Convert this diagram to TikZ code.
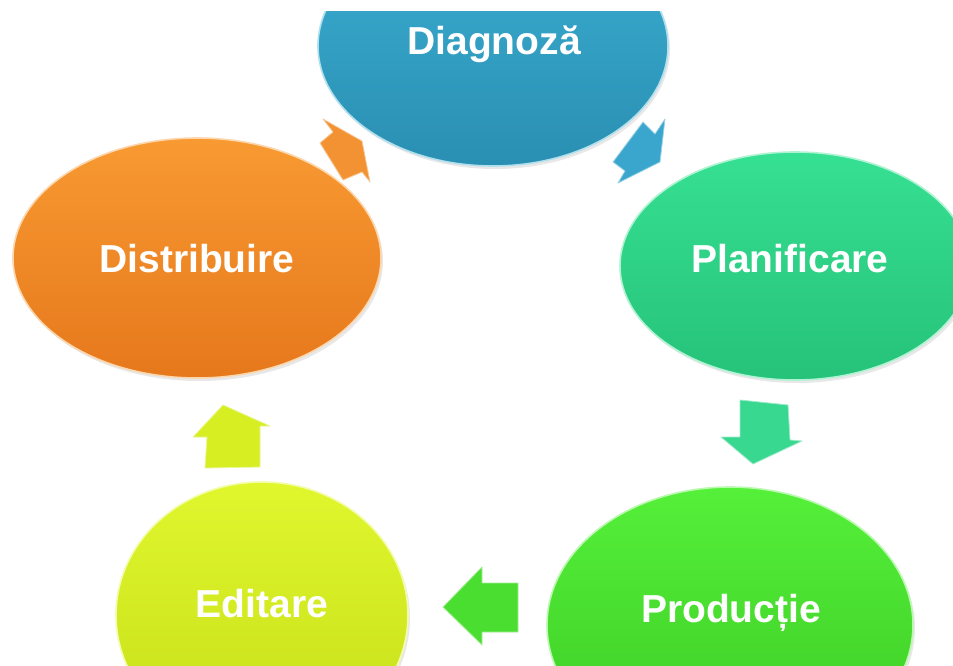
\documentclass[tikz,border=0pt]{standalone}
\usepackage{fontspec}
\setmainfont{Liberation Sans}
\usetikzlibrary{shapes.geometric,shadows}
\definecolor{dTop}{HTML}{3AAED2}
\definecolor{dBot}{HTML}{2A8FB2}
\definecolor{pTop}{HTML}{36E092}
\definecolor{pBot}{HTML}{26C27A}
\definecolor{rTop}{HTML}{55F03A}
\definecolor{rBot}{HTML}{3CCA24}
\definecolor{eTop}{HTML}{E0F72E}
\definecolor{eBot}{HTML}{C6DE18}
\definecolor{sTop}{HTML}{F89A32}
\definecolor{sBot}{HTML}{E6781C}
\definecolor{aBlue}{HTML}{3AA6CE}
\definecolor{aOrange}{HTML}{F29232}
\definecolor{aTeal}{HTML}{38D890}
\definecolor{aGreen}{HTML}{4ADE30}
\definecolor{aYellow}{HTML}{D6EE22}
\begin{document}
\begin{tikzpicture}[x=1pt,y=-1pt,
  blob/.style={ellipse, inner sep=0pt, line width=1.6pt,
    drop shadow={opacity=0.18, shadow xshift=2pt, shadow yshift=-3pt}},
  lbl/.style={anchor=base, text=white, font=\bfseries\fontsize{39}{44}\selectfont, inner sep=0pt},
  blockarrow/.style={line width=0.8pt, line join=round}
]
\useasboundingbox (0,0) rectangle (953,666);
\fill[white] (0,0) rectangle (953,666);
\begin{scope}
\clip (0,12) rectangle (953,666);
% ellipses
\node[blob, minimum width=350pt, minimum height=240pt, top color=dTop, bottom color=dBot, draw=dTop!40!white] (diag) at (493,46) {};
\node[blob, minimum width=350pt, minimum height=228pt, top color=pTop, bottom color=pBot, draw=pTop!40!white] (plan) at (795,266) {};
\node[blob, minimum width=366pt, minimum height=276pt, top color=rTop, bottom color=rBot, draw=rTop!40!white] (prod) at (730,625) {};
\node[blob, minimum width=292pt, minimum height=266pt, top color=eTop, bottom color=eBot, draw=eTop!40!white] (edit) at (262,615) {};
\node[blob, minimum width=368pt, minimum height=240pt, top color=sTop, bottom color=sBot, draw=sTop!40!white] (dist) at (197,258) {};
% labels
\node[lbl] (diagT) at (494,55) {Diagnoză};
\node[lbl] (planT) at (790,272) {Planificare};
\node[lbl] (prodT) at (731,622) {Producție};
\node[lbl] (editT) at (262,617) {Editare};
\node[lbl] (distT) at (197,272) {Distribuire};
% block arrows
\filldraw[blockarrow, fill=aBlue, draw=aBlue!50!white]
  (643,122) -- (655,134) -- (665,119) -- (660,162) -- (618,183) -- (625,171) -- (613,162) -- cycle;
\filldraw[blockarrow, fill=aTeal, draw=aTeal!50!white]
  (740,400) -- (788,405) -- (790,440) -- (802,441) -- (753,464) -- (721,437) -- (740,437) -- cycle;
\filldraw[blockarrow, fill=aGreen, draw=aGreen!50!white]
  (443,607) -- (482,567) -- (482,583) -- (518,583) -- (518,632) -- (482,632) -- (482,645) -- cycle;
\filldraw[blockarrow, fill=aYellow, draw=aYellow!50!white]
  (223,405) -- (270,426) -- (260,426) -- (260,467) -- (205,468) -- (207,437) -- (193,437) -- cycle;
\filldraw[blockarrow, fill=aOrange, draw=aOrange!50!white]
  (320,143) -- (333,132) -- (323,119) -- (362,141) -- (370,182) -- (362,172) -- (343,180) -- cycle;
\end{scope}
\end{tikzpicture}
\end{document}
